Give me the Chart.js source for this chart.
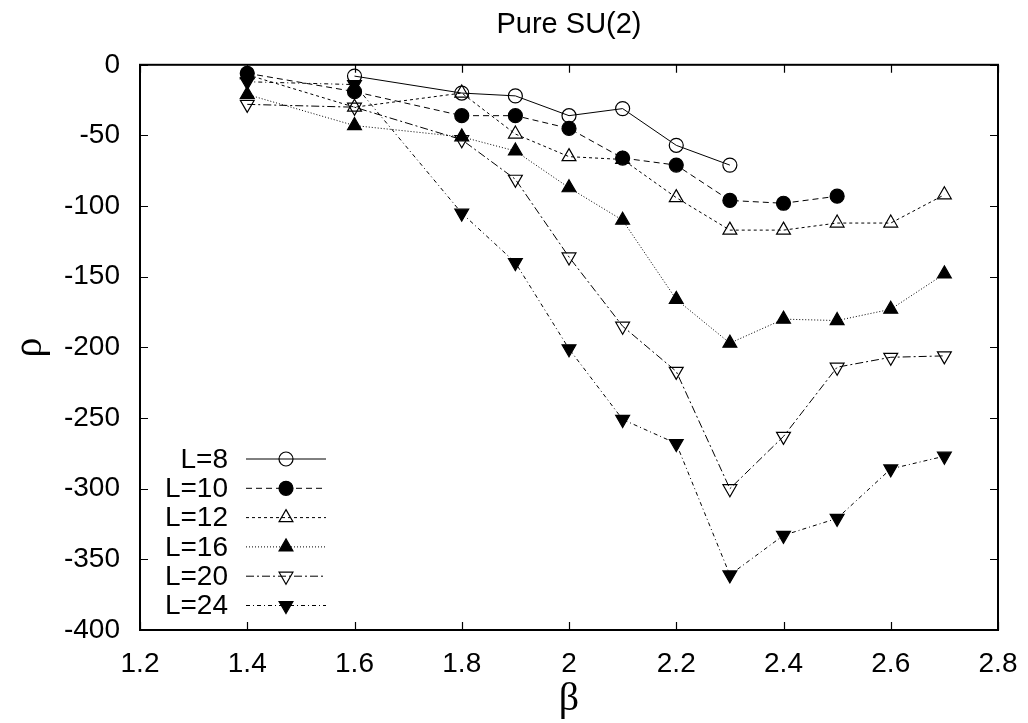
<!DOCTYPE html>
<html>
<head>
<meta charset="utf-8">
<title>Pure SU(2)</title>
<script src="https://cdn.jsdelivr.net/npm/chart.js@4.4.0/dist/chart.umd.min.js"></script>
<style>
  html, body { margin: 0; padding: 0; background: #fff; }
  #wrap { width: 1028px; height: 723px; }
</style>
</head>
<body>
<div id="wrap"><canvas id="myChart" width="1028" height="723"></canvas></div>
<script>
//------------------------------------------------------//
// data
const beta = [1.4, 1.6, 1.8, 1.9, 2.0, 2.1, 2.2, 2.3, 2.4, 2.5, 2.6, 2.7]

const rhoL8  = [null, -8, -20, -22, -36, -31, -57, -71, null, null, null, null]
const rhoL10 = [-6, -19, -36, -36, -45, -66, -71, -96, -98, -93, null, null]
const rhoL12 = [-7, -30, -20, -49, -65, -67, -94, -117, -117, -112, -112, -92]
const rhoL16 = [-21, -43, -51, -61, -87, -110, -166, -197, -180, -181, -173, -148]
const rhoL20 = [-28, -30, -53, -81, -136, -185, -217, -300, -263, -214, -207, -206]
const rhoL24 = [-12, -14, -105, -140, -201, -251, -268, -361, -333, -321, -286, -277]

const seriesLabels = ["L=8", "L=10", "L=12", "L=16", "L=20", "L=24"]

const xTicks = [1.2, 1.4, 1.6, 1.8, 2.0, 2.2, 2.4, 2.6, 2.8]
const yTicks = [0, -50, -100, -150, -200, -250, -300, -350, -400]

//------------------------------------------------------//
// how each series looks (gnuplot-ish)
const styles = [
  { dash: [],            point: "circle",   rot: 0,   fill: false, r: 7 },
  { dash: [6, 4],        point: "circle",   rot: 0,   fill: true,  r: 7 },
  { dash: [3, 3],        point: "triangle", rot: 0,   fill: false, r: 8 },
  { dash: [1, 2],        point: "triangle", rot: 0,   fill: true,  r: 8 },
  { dash: [8, 3, 2, 3],  point: "triangle", rot: 180, fill: false, r: 8 },
  { dash: [4, 3, 1, 3],  point: "triangle", rot: 180, fill: true,  r: 8 }
]

const toPoints = (vals) => {
  let pts = []
  for (let i in beta) {
    if (vals[i] !== null) pts.push({ x: beta[i], y: vals[i] })
  }
  return pts
}

const allSeries = [rhoL8, rhoL10, rhoL12, rhoL16, rhoL20, rhoL24]

const datasets = allSeries.map((vals, i) => ({
  label: seriesLabels[i],
  data: toPoints(vals),
  showLine: true,
  borderColor: "#000",
  borderWidth: 1,
  borderDash: styles[i].dash,
  pointStyle: styles[i].point,
  rotation: styles[i].rot,
  pointRadius: styles[i].r,
  pointBorderWidth: 1.2,
  pointBorderColor: "#000",
  pointBackgroundColor: styles[i].fill ? "#000" : "rgba(0,0,0,0)",
  order: i
}))

//------------------------------------------------------//
// box + inward ticks on all four sides
const frameTicks = {
  id: "frameTicks",
  afterDraw(chart) {
    const ctx = chart.ctx
    const a = chart.chartArea
    const xs = chart.scales.x, ys = chart.scales.y
    const len = 8
    ctx.save()
    ctx.strokeStyle = "#000"
    ctx.lineWidth = 1.2
    ctx.beginPath()
    for (let v of xTicks) {
      const px = Math.round(xs.getPixelForValue(v)) + 0.5
      ctx.moveTo(px, a.bottom); ctx.lineTo(px, a.bottom - len)
      ctx.moveTo(px, a.top); ctx.lineTo(px, a.top + len)
    }
    for (let v of yTicks) {
      const py = Math.round(ys.getPixelForValue(v)) + 0.5
      ctx.moveTo(a.left, py); ctx.lineTo(a.left + len, py)
      ctx.moveTo(a.right, py); ctx.lineTo(a.right - len, py)
    }
    ctx.stroke()
    ctx.lineWidth = 2
    ctx.strokeRect(a.left, a.top, a.right - a.left, a.bottom - a.top)
    ctx.restore()
  }
}

// marker drawing for the key
const drawMarker = (ctx, st, x, y) => {
  ctx.beginPath()
  if (st.point === "circle") {
    ctx.arc(x, y, st.r, 0, Math.PI * 2)
  } else {
    const r = st.r
    const s = st.rot === 180 ? -1 : 1
    ctx.moveTo(x, y - s * r)
    ctx.lineTo(x + r * 0.866, y + s * r * 0.5)
    ctx.lineTo(x - r * 0.866, y + s * r * 0.5)
    ctx.closePath()
  }
  if (st.fill) { ctx.fillStyle = "#000"; ctx.fill() }
  ctx.setLineDash([])
  ctx.lineWidth = 1.2
  ctx.stroke()
}

// gnuplot style key, bottom left inside the plot
const gnuKey = {
  id: "gnuKey",
  afterDraw(chart) {
    const ctx = chart.ctx
    ctx.save()
    ctx.font = "28px 'Liberation Sans', Arial, sans-serif"
    ctx.textAlign = "right"
    ctx.textBaseline = "middle"
    ctx.strokeStyle = "#000"
    for (let i in seriesLabels) {
      const y = 459 + i * 29.3
      ctx.fillStyle = "#000"
      ctx.fillText(seriesLabels[i], 228, y + 1)
      ctx.setLineDash(styles[i].dash)
      ctx.lineWidth = 1
      ctx.beginPath()
      ctx.moveTo(246, y); ctx.lineTo(326, y)
      ctx.stroke()
      drawMarker(ctx, styles[i], 286, y)
    }
    ctx.restore()
  }
}

//------------------------------------------------------//
const tickFont = { family: "'Liberation Sans', Arial, sans-serif", size: 28 }

const createCanvas = () => {
  var ctx = document.getElementById("myChart").getContext("2d")
  var chart = new Chart(ctx, {
    type: "scatter",
    data: { datasets: datasets },
    options: {
      responsive: false,
      animation: false,
      layout: { padding: { left: 0, right: 30, top: 0, bottom: 0 } },
      plugins: {
        legend: { display: false },
        tooltip: { enabled: false },
        title: {
          display: true,
          text: "Pure SU(2)",
          fullSize: false,
          color: "#000",
          font: { family: "'Liberation Sans', Arial, sans-serif", size: 29, weight: "normal" },
          padding: { top: 8, bottom: 22 }
        }
      },
      scales: {
        x: {
          type: "linear",
          min: 1.2,
          max: 2.8,
          grid: { display: false },
          border: { display: false },
          afterBuildTicks: (scale) => { scale.ticks = xTicks.map(v => ({ value: v })) },
          afterFit: (scale) => { scale.height = 93 },
          ticks: {
            color: "#000",
            font: tickFont,
            padding: 9,
            maxRotation: 0,
            callback: (v) => Number(v.toFixed(1)).toString()
          },
          title: {
            display: true,
            text: "β",
            color: "#000",
            font: { family: "'Liberation Serif', 'Times New Roman', serif", size: 40 },
            padding: { top: 0, bottom: 0 }
          }
        },
        y: {
          type: "linear",
          min: -400,
          max: 0,
          grid: { display: false },
          border: { display: false },
          afterBuildTicks: (scale) => { scale.ticks = yTicks.map(v => ({ value: v })) },
          afterFit: (scale) => { scale.width = 140 },
          ticks: {
            color: "#000",
            font: tickFont,
            padding: 12,
            callback: (v) => v.toString()
          },
          title: {
            display: true,
            text: "ρ",
            color: "#000",
            font: { family: "'Liberation Serif', 'Times New Roman', serif", size: 40 },
            padding: { top: 6, bottom: 0 }
          }
        }
      }
    },
    plugins: [frameTicks, gnuKey]
  })
  return chart
}

createCanvas()
</script>
</body>
</html>
